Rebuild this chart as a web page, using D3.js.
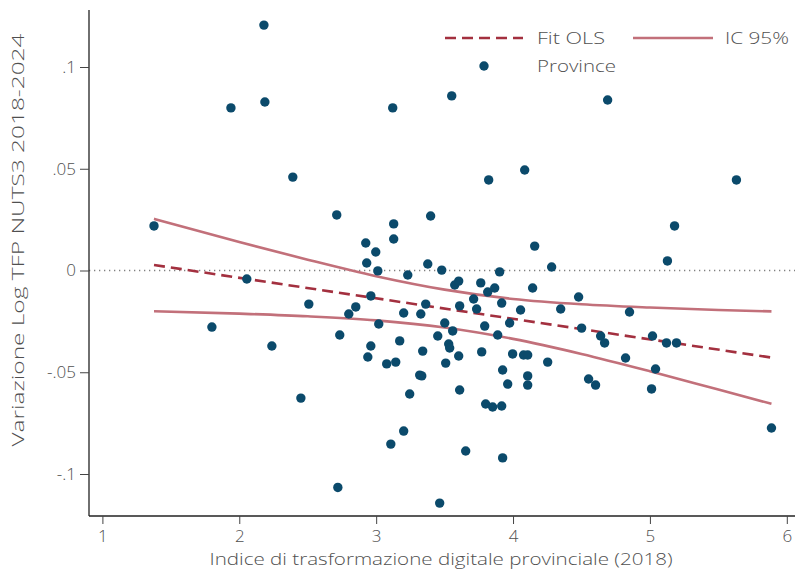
<!DOCTYPE html>
<html><head><meta charset="utf-8">
<script src="https://cdn.jsdelivr.net/npm/d3@7"></script>
<style>body{margin:0;background:#fff}svg{display:block}text{font-family:"Open Sans",Lato,sans-serif;font-weight:300;fill:#505050}</style>
</head><body><svg id="c" width="796" height="569"></svg>
<script>
const digitalIndex = [1.377,1.800,1.939,2.055,2.180,2.187,2.238,2.391,2.450,2.508,2.712,2.720,2.734,2.800,2.851,2.924,2.931,2.939,2.961,2.961,2.997,3.012,3.019,3.077,3.107,3.121,3.128,3.128,3.143,3.172,3.201,3.201,3.231,3.245,3.318,3.333,3.326,3.340,3.362,3.377,3.398,3.450,3.464,3.479,3.501,3.508,3.530,3.537,3.552,3.559,3.574,3.603,3.603,3.610,3.610,3.654,3.712,3.734,3.764,3.771,3.793,3.800,3.815,3.822,3.851,3.866,3.888,3.902,3.917,3.917,3.924,3.924,3.961,3.975,3.997,4.055,4.077,4.107,4.107,4.107,4.085,4.143,4.158,4.253,4.282,4.348,4.479,4.501,4.552,4.603,4.640,4.669,4.691,4.822,4.851,5.012,5.019,5.041,5.121,5.128,5.180,5.194,5.632,5.888];
const tfpChange = [0.0219,-0.0278,0.0799,-0.0042,0.1206,0.0828,-0.0371,0.0459,-0.0627,-0.0165,0.0273,-0.1066,-0.0317,-0.0214,-0.0179,0.0135,0.0037,-0.0425,-0.0125,-0.0371,0.0091,-0.0002,-0.0263,-0.0459,-0.0853,0.0799,0.0229,0.0155,-0.0450,-0.0346,-0.0209,-0.0789,-0.0022,-0.0607,-0.0514,-0.0518,-0.0214,-0.0396,-0.0165,0.0032,0.0268,-0.0322,-0.1143,0.0002,-0.0258,-0.0455,-0.0361,-0.0381,0.0858,-0.0297,-0.0071,-0.0052,-0.0420,-0.0174,-0.0587,-0.0887,-0.0140,-0.0189,-0.0061,-0.0400,-0.0273,-0.0656,-0.0106,0.0445,-0.0671,-0.0086,-0.0317,-0.0007,-0.0160,-0.0666,-0.0489,-0.0921,-0.0558,-0.0258,-0.0410,-0.0194,-0.0415,-0.0415,-0.0518,-0.0563,0.0494,-0.0086,0.0120,-0.0450,0.0017,-0.0189,-0.0130,-0.0283,-0.0533,-0.0563,-0.0322,-0.0356,0.0838,-0.0430,-0.0204,-0.0582,-0.0322,-0.0484,-0.0356,0.0047,0.0219,-0.0356,0.0445,-0.0774];
const fitX = [1.377,5.888];
const fitY = [0.0027,-0.0428];
const ciX = [1.377,2,2.5,3,3.5,4,4.5,5,5.5,5.888];
const ciUpper = [0.0254,0.0140,0.0053,-0.0028,-0.0094,-0.0140,-0.0166,-0.0182,-0.0194,-0.0201];
const ciLower = [-0.0200,-0.0212,-0.0225,-0.0245,-0.0280,-0.0336,-0.0410,-0.0495,-0.0585,-0.0655];
const xTicks = [1,2,3,4,5,6];
const yTicks = [0.1,0.05,0,-0.05,-0.1];
const yTickLabels = [".1",".05","0","-.05","-.1"];
const legendLabels = ["Fit OLS","IC 95%","Province"];

const svg = d3.select("#c");
const L=89, R=795, T=10, B=516;
const x = d3.scaleLinear().domain([1,6]).range([102.4,786.8]);
const y = d3.scaleLinear().domain([0,0.1]).range([270.5,67]);
const dotColor="#0b4a6b", fitColor="#a3303f", ciColor="#c2707a";

// zero line
svg.append("line").attr("x1",L).attr("x2",R).attr("y1",y(0)).attr("y2",y(0))
  .attr("stroke","#808080").attr("stroke-width",1.4).attr("stroke-dasharray","1.3,3.7");

// axes
const xAxis = d3.axisBottom(x).tickValues(xTicks).tickFormat(d3.format("d")).tickSize(8).tickSizeOuter(0);
const gx = svg.append("g").attr("transform",`translate(0,${B})`).call(xAxis);
gx.select(".domain").attr("d",`M${L},0H${R}`).attr("stroke","#222").attr("stroke-width",1.3);
gx.selectAll(".tick line").attr("stroke","#444").attr("stroke-width",1);
gx.selectAll(".tick text").attr("font-size",17).attr("y",10).attr("dy","0.95em");

const yAxis = d3.axisLeft(y).tickValues(yTicks).tickFormat((d,i)=>yTickLabels[i]).tickSize(9).tickSizeOuter(0);
const gy = svg.append("g").attr("transform",`translate(${L},0)`).call(yAxis);
gy.select(".domain").attr("d",`M0,${T}V${B}`).attr("stroke","#222").attr("stroke-width",1.3);
gy.selectAll(".tick line").attr("stroke","#444").attr("stroke-width",1);
gy.selectAll(".tick text").attr("font-size",17).attr("x",-13);
svg.selectAll(".tick text").style("font-family","'Open Sans', sans-serif").style("font-weight",300).style("fill","#505050");

// CI lines
const ci = ciX.map((d,i)=>({x:d,u:ciUpper[i],l:ciLower[i]}));
const lu = d3.line().x(d=>x(d.x)).y(d=>y(d.u)).curve(d3.curveMonotoneX);
const ll = d3.line().x(d=>x(d.x)).y(d=>y(d.l)).curve(d3.curveMonotoneX);
svg.append("path").attr("d",lu(ci)).attr("fill","none").attr("stroke",ciColor).attr("stroke-width",2.6);
svg.append("path").attr("d",ll(ci)).attr("fill","none").attr("stroke",ciColor).attr("stroke-width",2.6);

// fit
svg.append("line").attr("x1",x(fitX[0])).attr("y1",y(fitY[0])).attr("x2",x(fitX[1])).attr("y2",y(fitY[1]))
  .attr("stroke",fitColor).attr("stroke-width",2.6).attr("stroke-dasharray","11,6");

// points
svg.append("g").selectAll("circle").data(digitalIndex.map((d,i)=>[d,tfpChange[i]])).join("circle")
  .attr("cx",d=>x(d[0])).attr("cy",d=>y(d[1])).attr("r",4.7).attr("fill",dotColor);

// legend
const lg = svg.append("g");
lg.append("line").attr("x1",445).attr("x2",523).attr("y1",38).attr("y2",38).attr("stroke",fitColor).attr("stroke-width",2.6).attr("stroke-dasharray","11,6");
lg.append("text").attr("x",537).attr("y",38).attr("dy","0.35em").attr("font-size",17).attr("textLength",68).attr("lengthAdjust","spacingAndGlyphs").text(legendLabels[0]);
lg.append("line").attr("x1",633).attr("x2",713).attr("y1",38).attr("y2",38).attr("stroke",ciColor).attr("stroke-width",2.6);
lg.append("text").attr("x",725).attr("y",38).attr("dy","0.35em").attr("font-size",17).attr("textLength",64).attr("lengthAdjust","spacingAndGlyphs").text(legendLabels[1]);
lg.append("circle").attr("cx",484).attr("cy",66).attr("r",4.7).attr("fill",dotColor);
lg.append("text").attr("x",537).attr("y",66).attr("dy","0.35em").attr("font-size",17).attr("textLength",79).attr("lengthAdjust","spacingAndGlyphs").text(legendLabels[2]);

// axis titles
svg.append("text").attr("x",441).attr("y",565).attr("text-anchor","middle").attr("font-size",17)
  .attr("textLength",463).attr("lengthAdjust","spacingAndGlyphs")
  .text("Indice di trasformazione digitale provinciale (2018)");
svg.append("text").attr("transform","translate(24,240) rotate(-90)").attr("text-anchor","middle").attr("font-size",17)
  .attr("textLength",413).attr("lengthAdjust","spacingAndGlyphs")
  .text("Variazione Log TFP NUTS3 2018-2024");
</script></body></html>
